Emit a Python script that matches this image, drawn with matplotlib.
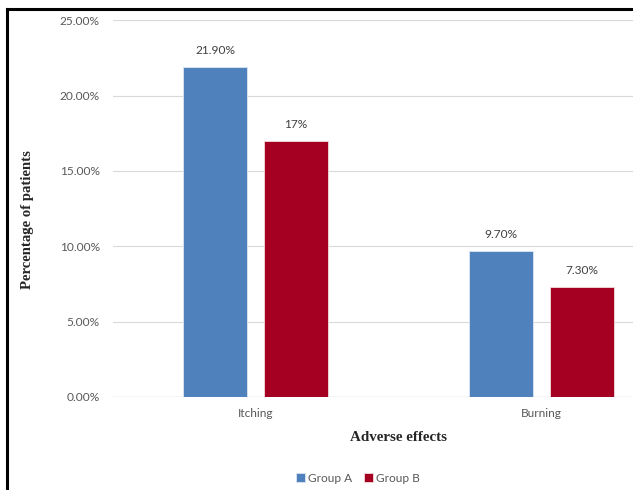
import matplotlib
matplotlib.use("Agg")
import matplotlib.pyplot as plt
from matplotlib.lines import Line2D
from matplotlib.ticker import FuncFormatter
import numpy as np

categories = ["Itching", "Burning"]
group_a = [21.9, 9.7]
group_b = [17.0, 7.3]
labels_a = ["21.90%", "9.70%"]
labels_b = ["17%", "7.30%"]
series_names = ["Group A", "Group B"]
yticks = [0, 5, 10, 15, 20, 25]

blue = "#4F81BD"
red = "#A50021"
tick_color = "#595959"
grid_color = "#D9D9D9"
sans = ["Lato", "DejaVu Sans"]
serif = ["Liberation Serif", "DejaVu Serif"]

fig = plt.figure(figsize=(6.33, 4.90), dpi=100)
ax = fig.add_axes([0.1785, 0.1898, 0.902, 0.769])

x = np.arange(len(categories))
w = 0.223
off = 0.141
bars_a = ax.bar(x - off, group_a, w, color=blue, edgecolor="#DCE6F2", linewidth=0.6, label=series_names[0], zorder=3)
bars_b = ax.bar(x + off, group_b, w, color=red, edgecolor="#F2DCDB", linewidth=0.6, label=series_names[1], zorder=3)

for bars, labs in ((bars_a, labels_a), (bars_b, labels_b)):
    for b, t in zip(bars, labs):
        ax.annotate(t, (b.get_x() + b.get_width() / 2, b.get_height()),
                    xytext=(0, 8), textcoords="offset points", ha="center", va="bottom",
                    fontsize=8.6, color="#404040", family=sans)

ax.set_xlim(-0.497, 1.497)
ax.set_ylim(0, 25)
ax.set_yticks(yticks)
ax.yaxis.set_major_formatter(FuncFormatter(lambda v, p: f"{v:.2f}%"))
ax.set_xticks(x)
ax.set_xticklabels(categories)
ax.tick_params(axis="both", length=0, labelsize=8.6, labelcolor=tick_color)
ax.tick_params(axis="y", pad=9.5)
ax.tick_params(axis="x", pad=8)
for lab in ax.get_xticklabels() + ax.get_yticklabels():
    lab.set_family(sans)
ax.grid(axis="y", color=grid_color, linewidth=0.8, zorder=0)
for s in ax.spines.values():
    s.set_visible(False)
ax.axhline(0, color=grid_color, linewidth=1.0, zorder=2)

fig.text(0.630, 1 - 437 / 490, "Adverse effects", ha="center", va="center",
         fontsize=10.8, fontweight="bold", family=serif, color="#262626")
fig.text(0.044, 1 - 220 / 490, "Percentage of patients", ha="center", va="center",
         rotation=90, fontsize=10.6, fontweight="bold", family=serif, color="#262626")

leg = fig.legend(handles=[bars_a, bars_b], labels=series_names, loc="center",
                 bbox_to_anchor=(358 / 633, 1 - 478 / 490), ncol=2, frameon=False,
                 handlelength=0.7, handleheight=0.7, handletextpad=0.3,
                 columnspacing=1.0, prop={"family": sans, "size": 8.6})
for t in leg.get_texts():
    t.set_color(tick_color)

# black frame along the top and left edges
fig.add_artist(Line2D([7 / 633, 1.0], [1 - 9 / 490, 1 - 9 / 490], color="black", linewidth=2.2,
                      transform=fig.transFigure))
fig.add_artist(Line2D([7 / 633, 7 / 633], [0.0, 1 - 9 / 490], color="black", linewidth=2.2,
                      transform=fig.transFigure))

fig.savefig("out.png", dpi=100)
